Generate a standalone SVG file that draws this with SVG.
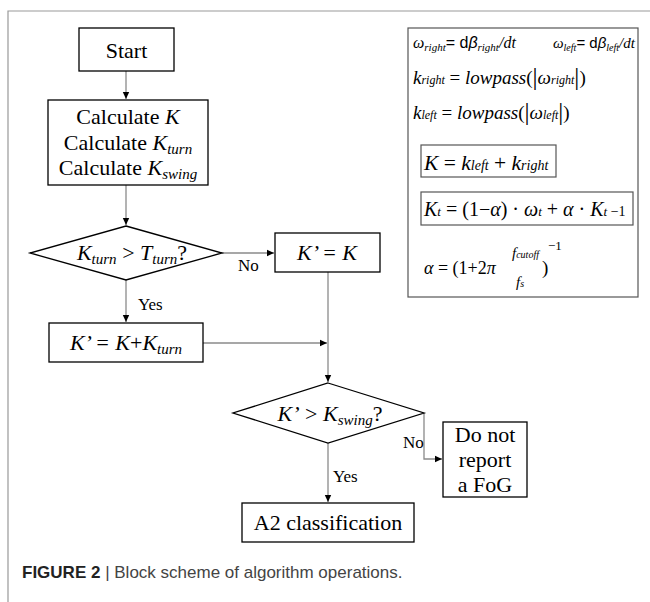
<svg xmlns="http://www.w3.org/2000/svg" width="650" height="602" viewBox="0 0 650 602">
<defs>
<marker id="ah" markerWidth="8" markerHeight="8" refX="7" refY="4" orient="auto" markerUnits="userSpaceOnUse"><path d="M0,0.8 L7,4 L0,7.2 z" fill="#000"/></marker>
<style>
.box{fill:#fff;stroke:#000;stroke-width:1.3}
.fbox{fill:none;stroke:#555;stroke-width:1.2}
.frame{fill:none;stroke:#999;stroke-width:1.2}
.c{fill:none;stroke:#8a8a8a;stroke-width:1.3}
.t{font-family:"Liberation Serif",serif;font-size:22px;fill:#000}
.i{font-style:italic}
.sub{font-size:15px;font-style:italic}
.lbl{font-family:"Liberation Serif",serif;font-size:17px;fill:#000}
.f{font-family:"Liberation Serif",serif;fill:#000;font-style:italic}
.u{font-style:normal}
.s{font-family:"Liberation Sans",sans-serif}
.bar{font-style:normal;font-size:25px}
.cap{font-family:"Liberation Sans",sans-serif;font-size:17px;fill:#444}
</style>
</defs>
<path class="frame" d="M650,11 H8 V602"/>

<g id="connectors">
<line class="c" x1="126" y1="71" x2="126" y2="99" marker-end="url(#ah)"/>
<line class="c" x1="126" y1="185" x2="126" y2="225" marker-end="url(#ah)"/>
<line class="c" x1="222" y1="253" x2="274" y2="253" marker-end="url(#ah)"/>
<line class="c" x1="126" y1="280" x2="126" y2="322" marker-end="url(#ah)"/>
<line class="c" x1="203" y1="343" x2="327" y2="343" marker-end="url(#ah)"/>
<line class="c" x1="328" y1="272" x2="328" y2="382" marker-end="url(#ah)"/>
<line class="c" x1="328" y1="443" x2="328" y2="502" marker-end="url(#ah)"/>
<polyline class="c" points="424,413 424,459 442,459" marker-end="url(#ah)"/>
<text class="lbl" x="238" y="271">No</text>
<text class="lbl" x="138" y="310">Yes</text>
<text class="lbl" x="403" y="448">No</text>
<text class="lbl" x="333" y="482">Yes</text>
</g>

<g id="start">
<rect class="box" x="79" y="28" width="95" height="43"/>
<text class="t" x="126.5" y="58" text-anchor="middle">Start</text>
</g>

<g id="calculate">
<rect class="box" x="48" y="100" width="160" height="85"/>
<text class="t" x="128" y="124" text-anchor="middle">Calculate <tspan class="i">K</tspan></text>
<text class="t" x="128" y="150" text-anchor="middle">Calculate <tspan class="i">K</tspan><tspan class="sub" dy="4">turn</tspan></text>
<text class="t" x="128" y="175" text-anchor="middle">Calculate <tspan class="i">K</tspan><tspan class="sub" dy="4">swing</tspan></text>
</g>

<g id="decision1">
<polygon class="box" points="126,226 222,253 126,280 30,253"/>
<text class="t" x="132" y="260" text-anchor="middle"><tspan class="i">K</tspan><tspan class="sub" dy="4">turn</tspan><tspan dy="-4"> &gt; </tspan><tspan class="i">T</tspan><tspan class="sub" dy="4">turn</tspan><tspan dy="-4">?</tspan></text>
</g>

<g id="kprime-eq-k">
<rect class="box" x="275" y="233" width="105" height="39"/>
<text class="t i" x="327" y="260" text-anchor="middle">K’ = K</text>
</g>

<g id="kprime-sum">
<rect class="box" x="49" y="323" width="154" height="39"/>
<text class="t" x="126" y="350" text-anchor="middle"><tspan class="i">K’ = K</tspan>+<tspan class="i">K</tspan><tspan class="sub" dy="4">turn</tspan></text>
</g>

<g id="decision2">
<polygon class="box" points="328,383 424,413 328,443 233,413"/>
<text class="t" x="330" y="421" text-anchor="middle"><tspan class="i">K’</tspan> &gt; <tspan class="i">K</tspan><tspan class="sub" dy="4">swing</tspan><tspan dy="-4">?</tspan></text>
</g>

<g id="no-report">
<rect class="box" x="443" y="422" width="84" height="75"/>
<text class="t" x="485" y="442" text-anchor="middle">Do not</text>
<text class="t" x="485" y="467" text-anchor="middle">report</text>
<text class="t" x="485" y="492" text-anchor="middle">a FoG</text>
</g>

<g id="a2">
<rect class="box" x="242" y="503" width="172" height="39"/>
<text class="t" x="328" y="530" text-anchor="middle">A2 classification</text>
</g>

<g id="formulas">
<rect class="fbox" x="408" y="28" width="230" height="269"/>
<text class="f" x="413" y="48" font-size="16">ω<tspan font-size="11" dy="3">right</tspan><tspan class="s u" dy="-3">= d</tspan><tspan class="s">β</tspan><tspan font-size="11" dy="3">right</tspan><tspan dy="-3">/dt</tspan></text>
<text class="f" x="553" y="48" font-size="15">ω<tspan font-size="10" dy="3">left</tspan><tspan class="s u" dy="-3">= d</tspan><tspan class="s">β</tspan><tspan font-size="10" dy="3">left</tspan><tspan dy="-3">/dt</tspan></text>
<text class="f" x="413" y="84" font-size="19">k<tspan font-size="12">right</tspan><tspan class="u"> = </tspan>lowpass<tspan class="u">(</tspan><tspan class="bar" dy="1">|</tspan><tspan dy="-1">ω</tspan><tspan font-size="12">right</tspan><tspan class="bar" dy="1">|</tspan><tspan class="u" dy="-1">)</tspan></text>
<text class="f" x="413" y="119" font-size="19">k<tspan font-size="12">left</tspan><tspan class="u"> = </tspan>lowpass<tspan class="u">(</tspan><tspan class="bar" dy="1">|</tspan><tspan dy="-1">ω</tspan><tspan font-size="12">left</tspan><tspan class="bar" dy="1">|</tspan><tspan class="u" dy="-1">)</tspan></text>
<rect class="fbox" x="421" y="145" width="135" height="32"/>
<text class="f" x="424" y="170" font-size="21.5">K<tspan class="u"> = </tspan>k<tspan font-size="14">left</tspan><tspan class="u"> + </tspan>k<tspan font-size="14">right</tspan></text>
<rect class="fbox" x="421" y="192" width="212" height="33"/>
<text class="f" x="424" y="216" font-size="20">K<tspan font-size="13">t</tspan><tspan class="u"> = (1−</tspan>α<tspan class="u">) · </tspan>ω<tspan font-size="13">t</tspan><tspan class="u"> + </tspan>α<tspan class="u"> · </tspan>K<tspan font-size="13">t</tspan><tspan class="u" font-size="14"> −1</tspan></text>
<text class="f" x="424" y="274" font-size="18">α<tspan class="u"> = (1+2</tspan>π</text>
<text class="f" x="512" y="258" font-size="15">f<tspan font-size="10">cutoff</tspan></text>
<text class="f" x="516" y="287" font-size="15">f<tspan font-size="10">s</tspan></text>
<text class="f u" x="542" y="274" font-size="19">)</text>
<text class="f u" x="548" y="250" font-size="13">−1</text>
</g>

<text class="cap" x="22" y="578"><tspan font-weight="bold" fill="#222">FIGURE 2</tspan> | Block scheme of algorithm operations.</text>
</svg>
